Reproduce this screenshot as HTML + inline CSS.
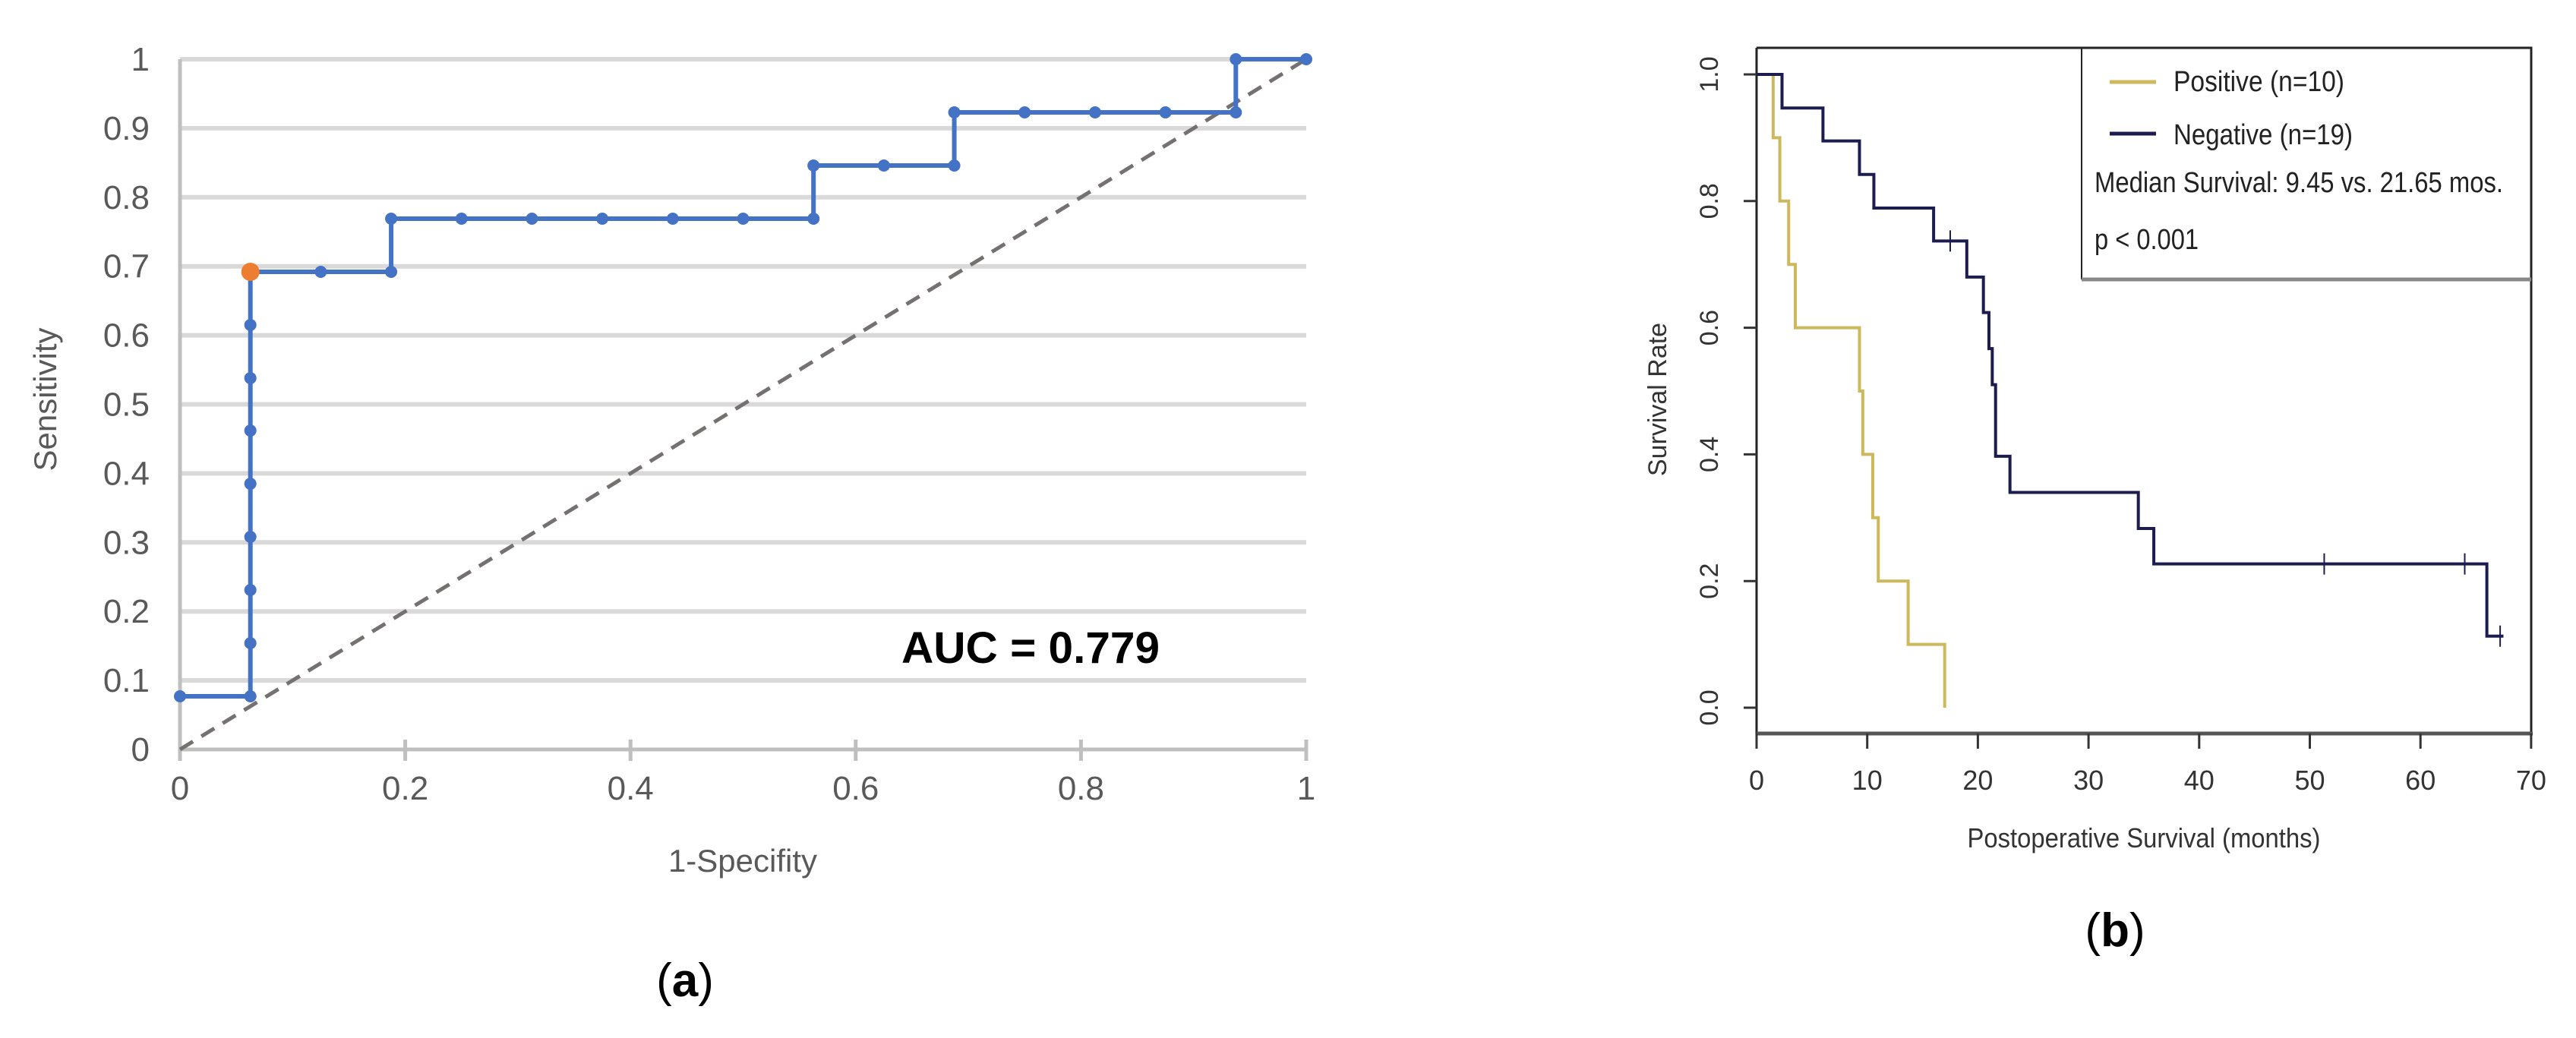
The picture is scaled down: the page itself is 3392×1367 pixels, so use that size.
<!DOCTYPE html>
<html><head><meta charset="utf-8"><style>
html,body{margin:0;padding:0;background:#fff;}
svg{display:block;}
text{font-family:"Liberation Sans",sans-serif;}
</style></head><body>
<svg id="fig" width="3392" height="1367" viewBox="0 0 3392 1367" xmlns="http://www.w3.org/2000/svg">
<rect width="3392" height="1367" fill="#fff"/>
<g id="roc"></g>
<g id="km"></g>
<text x="978" y="1148" font-size="42" fill="#595959" text-anchor="middle">1-Specifity</text>
<text x="0" y="0" transform="translate(74,526) rotate(-90)" font-size="42" fill="#595959" text-anchor="middle">Sensitivity</text>
<text x="1187" y="873" font-size="58" font-weight="bold" fill="#000" textLength="340" lengthAdjust="spacingAndGlyphs">AUC = 0.779</text>
<text x="902" y="1312" font-size="62" font-family="Liberation Serif, serif" text-anchor="middle" fill="#000">(<tspan font-weight="bold">a</tspan>)</text>
<text x="2785" y="1246" font-size="62" font-family="Liberation Serif, serif" text-anchor="middle" fill="#000">(<tspan font-weight="bold">b</tspan>)</text>
<text x="2823" y="1116" font-size="36" fill="#333" text-anchor="middle" textLength="465" lengthAdjust="spacingAndGlyphs">Postoperative Survival (months)</text>
<text x="0" y="0" transform="translate(2194,526) rotate(-90)" font-size="34" fill="#333" text-anchor="middle">Survival Rate</text>
</svg>
<script>
// ROC data
const rocFpr = [0,0.0625,0.0625,0.0625,0.0625,0.0625,0.0625,0.0625,0.0625,0.0625,0.125,0.1875,0.1875,0.25,0.3125,0.375,0.4375,0.5,0.5625,0.5625,0.625,0.6875,0.6875,0.75,0.8125,0.875,0.9375,0.9375,1];
const rocTpr = [0.077,0.077,0.154,0.231,0.308,0.385,0.462,0.538,0.615,0.692,0.692,0.692,0.769,0.769,0.769,0.769,0.769,0.769,0.769,0.846,0.846,0.846,0.923,0.923,0.923,0.923,0.923,1,1];
const rocOptimalIndex = 9;
const rocXTicks = ["0","0.2","0.4","0.6","0.8","1"];
const rocYTicks = ["0","0.1","0.2","0.3","0.4","0.5","0.6","0.7","0.8","0.9","1"];
// KM data
const posTimes = [0,1.5,2.1,2.9,3.5,9.3,9.6,10.5,11.0,13.7,17.0];
const posSurv  = [1.0,0.9,0.8,0.7,0.6,0.5,0.4,0.3,0.2,0.1,0.0];
const negTimes = [0,2.3,6.0,9.3,10.6,16.0,19.0,20.5,21.0,21.3,21.6,22.9,34.5,35.9,66.0];
const negSurv  = [1.0,0.947,0.895,0.842,0.789,0.737,0.680,0.624,0.567,0.510,0.397,0.340,0.283,0.227,0.113];
const negEnd = 67.5;
const negCensorT = [17.5,51.3,64.0,67.2];
const negCensorS = [0.737,0.227,0.227,0.113];
const kmXTicks = ["0","10","20","30","40","50","60","70"];
const kmYTicks = ["0.0","0.2","0.4","0.6","0.8","1.0"];

const NS="http://www.w3.org/2000/svg";
function mk(parent,tag,attrs,text){const e=document.createElementNS(NS,tag);for(const k in attrs)e.setAttribute(k,attrs[k]);if(text!==undefined)e.textContent=text;parent.appendChild(e);return e;}

// ROC axes
const rx=v=>237+1483*v, ry=v=>987-909*v;
const roc=document.getElementById('roc');
rocYTicks.forEach((t,i)=>{const v=i/10;
  if(i>0){const g=mk(roc,'line',{x1:rx(0),x2:rx(1),y1:ry(v),y2:ry(v),stroke:'#d9d9d9','stroke-width':6});
  
  }
  const l=mk(roc,'text',{x:197,y:ry(v)+15,'font-size':44,fill:'#595959','text-anchor':'end'},t);
  
  
});
const ya=mk(roc,'line',{x1:rx(0),x2:rx(0),y1:ry(1),y2:1002,stroke:'#bfbfbf','stroke-width':5});


const xa=mk(roc,'line',{x1:rx(0),x2:rx(1),y1:ry(0),y2:ry(0),stroke:'#bfbfbf','stroke-width':5});


rocXTicks.forEach((t,i)=>{const v=i*0.2;
  const tk=mk(roc,'line',{x1:rx(v),x2:rx(v),y1:974,y2:1002,stroke:'#bfbfbf','stroke-width':5});
  
  
  const l=mk(roc,'text',{x:rx(v),y:1053,'font-size':44,fill:'#595959','text-anchor':'middle'},t);
  
  
});
const diag=mk(roc,'line',{x1:rx(0),y1:ry(0),x2:rx(1),y2:ry(1),stroke:'#767171','stroke-width':5,'stroke-dasharray':'20 13'});


const rp=mk(roc,'polyline',{points:rocFpr.map((f,i)=>rx(f)+','+ry(rocTpr[i])).join(' '),fill:'none',stroke:'#4472c4','stroke-width':6});


rocFpr.forEach((f,i)=>{
  const c=mk(roc,'circle',{cx:rx(f),cy:ry(rocTpr[i]),r:i===rocOptimalIndex?12:8,fill:i===rocOptimalIndex?'#ed7d31':'#4472c4'});
  
  
});

// KM axes
const kx=t=>2313+14.57*t, ky=s=>932-834*s;
const km=document.getElementById('km');
const box=mk(km,'path',{d:`M2313,63 H3333 V966 M2313,63 V966`,fill:'none',stroke:'#222','stroke-width':3});


const bx=mk(km,'line',{x1:2313,x2:3335,y1:966,y2:966,stroke:'#555','stroke-width':5});


kmXTicks.forEach((t,i)=>{const v=i*10;
  const tk=mk(km,'line',{x1:kx(v),x2:kx(v),y1:966,y2:986,stroke:'#333','stroke-width':3});
  
  
  const l=mk(km,'text',{x:kx(v),y:1040,'font-size':36,fill:'#333','text-anchor':'middle'},t);
  
  
});
kmYTicks.forEach((t,i)=>{const v=i*0.2;
  const tk=mk(km,'line',{x1:2296,x2:2313,y1:ky(v),y2:ky(v),stroke:'#333','stroke-width':3});
  
  
  const l=mk(km,'text',{x:0,y:0,'font-size':34,fill:'#333','text-anchor':'middle',transform:`translate(${2262},${ky(v)}) rotate(-90)`},t);
  
  
});
function stepPath(T,S,end){let d=`M${kx(T[0])},${ky(S[0])}`;for(let i=1;i<T.length;i++){d+=` H${kx(T[i])} V${ky(S[i])}`;}if(end!==undefined)d+=` H${kx(end)}`;return d;}
const pp=mk(km,'path',{d:stepPath(posTimes,posSurv),fill:'none',stroke:'#cdb95c','stroke-width':4});


const np=mk(km,'path',{d:stepPath(negTimes,negSurv,negEnd),fill:'none',stroke:'#1c1c4e','stroke-width':4});


negCensorT.forEach((t,i)=>{
  const c=mk(km,'line',{x1:kx(t),x2:kx(t),y1:ky(negCensorS[i])-14,y2:ky(negCensorS[i])+14,stroke:'#1c1c4e','stroke-width':2});
  
  
});
// legend
const lg=mk(km,'g',{});


mk(lg,'path',{d:'M2741,63 V368',stroke:'#222','stroke-width':2,fill:'none'});
mk(lg,'line',{x1:2741,x2:3333,y1:368,y2:368,stroke:'#888','stroke-width':5});
const l1=mk(lg,'line',{x1:2778,x2:2839,y1:108,y2:108,stroke:'#cdb95c','stroke-width':5});


const l2=mk(lg,'line',{x1:2778,x2:2839,y1:176,y2:176,stroke:'#1c1c4e','stroke-width':5});


const t1=mk(lg,'text',{x:2862,y:120,'font-size':38,fill:'#222',textLength:225,lengthAdjust:'spacingAndGlyphs'},'Positive (n=10)');


const t2=mk(lg,'text',{x:2862,y:190,'font-size':38,fill:'#222',textLength:236,lengthAdjust:'spacingAndGlyphs'},'Negative (n=19)');


const t3=mk(lg,'text',{x:2758,y:253,'font-size':38,fill:'#222',textLength:538,lengthAdjust:'spacingAndGlyphs'},'Median Survival: 9.45 vs. 21.65 mos.');


const t4=mk(lg,'text',{x:2758,y:328,'font-size':38,fill:'#222',textLength:137,lengthAdjust:'spacingAndGlyphs'},'p < 0.001');


</script>
</body></html>
